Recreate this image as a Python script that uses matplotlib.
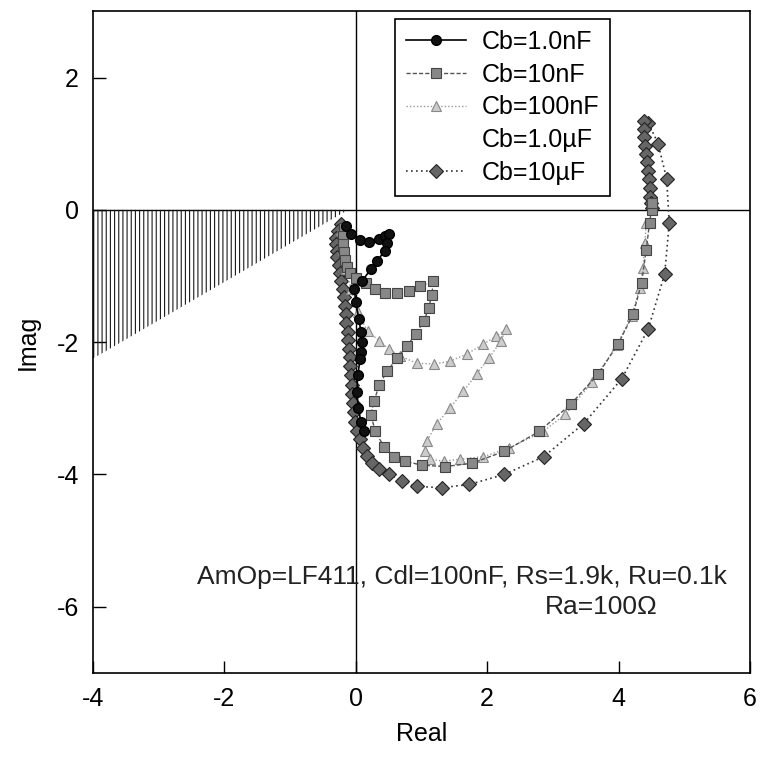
import matplotlib.pyplot as plt
from matplotlib.lines import Line2D

plt.rcParams['font.family'] = ['Liberation Sans', 'DejaVu Sans']
plt.rcParams['axes.unicode_minus'] = False
plt.rcParams['hatch.linewidth'] = 0.8

# Cb=1.0nF
cb1n_re = [-0.14, -0.07, 0.07, 0.21, 0.35, 0.45, 0.51, 0.48, 0.44, 0.33, 0.23, 0.1, -0.02,
           0.0, 0.05, 0.08, 0.1, 0.08, 0.07, 0.03, 0.02, 0.04, 0.08, 0.12]
cb1n_im = [-0.24, -0.37, -0.45, -0.48, -0.44, -0.39, -0.36, -0.5, -0.62, -0.77, -0.9, -1.07, -1.19,
           -1.4, -1.65, -1.85, -2.0, -2.15, -2.25, -2.5, -2.75, -3.0, -3.2, -3.35]

# Cb=10nF
cb10n_re = [-0.18, -0.2, -0.2, -0.18, -0.16, -0.13, -0.08, 0.0, 0.15, 0.3, 0.44, 0.63, 0.81, 0.98, 1.18,
            1.16, 1.11, 1.04, 0.91, 0.78, 0.63, 0.48, 0.36, 0.28, 0.23, 0.3, 0.43, 0.58, 0.75, 1.01,
            1.36, 1.77, 2.26, 2.79, 3.27, 3.69, 3.99, 4.22, 4.35, 4.42, 4.47, 4.5, 4.5]
cb10n_im = [-0.28, -0.4, -0.52, -0.64, -0.76, -0.86, -0.95, -1.03, -1.1, -1.2, -1.25, -1.25, -1.23, -1.15, -1.08,
            -1.28, -1.48, -1.68, -1.88, -2.06, -2.24, -2.44, -2.64, -2.89, -3.1, -3.35, -3.58, -3.73, -3.8, -3.86,
            -3.88, -3.83, -3.65, -3.35, -2.94, -2.48, -2.03, -1.58, -1.1, -0.6, -0.2, 0.0, 0.1]

# Cb=100nF
cb100n_re = [-0.22, -0.2, -0.15, -0.07, 0.03, 0.18, 0.36, 0.51, 0.68, 0.93, 1.19, 1.43, 1.69, 1.94, 2.14,
             2.29, 2.21, 2.03, 1.84, 1.64, 1.43, 1.23, 1.08, 1.05, 1.13, 1.34, 1.58, 1.94, 2.33, 2.85,
             3.19, 3.6, 3.97, 4.2, 4.32, 4.37, 4.4, 4.42]
cb100n_im = [-0.3, -0.6, -0.9, -1.2, -1.55, -1.83, -1.98, -2.11, -2.21, -2.32, -2.33, -2.29, -2.18, -2.03, -1.91,
             -1.8, -1.98, -2.24, -2.48, -2.74, -3.0, -3.24, -3.5, -3.65, -3.77, -3.8, -3.77, -3.73, -3.6, -3.35,
             -3.09, -2.6, -2.05, -1.6, -1.18, -0.88, -0.5, -0.2]

# Cb=1.0uF (shaded band on the left)
cb1u_re = [-4.0, -0.15]
cb1u_top = [0.0, 0.0]
cb1u_bottom = [-2.25, -0.02]

# Cb=10uF
cb10u_re = [-0.22, -0.27, -0.3, -0.3, -0.29, -0.28, -0.26, -0.24, -0.22, -0.2, -0.18, -0.17, -0.15, -0.14,
            -0.12, -0.11, -0.1, -0.09, -0.08, -0.07, -0.06, -0.05, -0.04, -0.03, -0.01, 0.02, 0.06, 0.11,
            0.17, 0.25, 0.36, 0.5, 0.71, 0.93, 1.31, 1.73, 2.26, 2.86, 3.47, 4.05, 4.45, 4.7, 4.77, 4.73,
            4.6, 4.45, 4.38, 4.38, 4.39, 4.4, 4.42, 4.43, 4.45, 4.46, 4.47, 4.48, 4.49, 4.5]
cb10u_im = [-0.22, -0.32, -0.42, -0.52, -0.62, -0.72, -0.84, -0.96, -1.08, -1.2, -1.32, -1.45, -1.58, -1.71,
            -1.84, -1.97, -2.1, -2.23, -2.36, -2.5, -2.64, -2.78, -2.92, -3.06, -3.2, -3.34, -3.47, -3.6,
            -3.72, -3.83, -3.92, -4.0, -4.1, -4.18, -4.2, -4.15, -4.0, -3.73, -3.23, -2.55, -1.8, -0.97, -0.2, 0.47,
            1.0, 1.32, 1.35, 1.22, 1.1, 0.97, 0.85, 0.72, 0.59, 0.46, 0.33, 0.2, 0.1, 0.03]

labels = ['Cb=1.0nF', 'Cb=10nF', 'Cb=100nF', 'Cb=1.0µF', 'Cb=10µF']
note1 = 'AmOp=LF411, Cdl=100nF, Rs=1.9k, Ru=0.1k'
note2 = 'Ra=100Ω'

fig = plt.figure(figsize=(7.6, 7.57), dpi=100)
ax = fig.add_axes([0.122, 0.111, 0.865, 0.874])

# axes through origin
ax.axhline(0, color='black', lw=1, zorder=1)
ax.axvline(0, color='black', lw=1, zorder=1)

ax.fill_between(cb1u_re, cb1u_top, cb1u_bottom, facecolor='none', edgecolor='#1a1a1a',
                hatch='||||', linewidth=0, zorder=2)

s10u, = ax.plot(cb10u_re, cb10u_im, color='#333333', ls=(0, (1, 2)), lw=1.2,
                marker='D', ms=7, mfc='#666666', mec='#222222', mew=0.8, zorder=3)
s100n, = ax.plot(cb100n_re, cb100n_im, color='#999999', ls=(0, (1, 1.5)), lw=1,
                 marker='^', ms=7, mfc='#cccccc', mec='#888888', mew=0.8, zorder=4)
s10n, = ax.plot(cb10n_re, cb10n_im, color='#555555', ls=(0, (3, 1.5)), lw=1,
                marker='s', ms=7, mfc='#888888', mec='#444444', mew=0.8, zorder=5)
s1n, = ax.plot(cb1n_re, cb1n_im, color='black', ls='-', lw=1.2,
               marker='o', ms=7, mfc='#111111', mec='black', zorder=6)
s1u = Line2D([], [], ls='none')

leg = ax.legend([s1n, s10n, s100n, s1u, s10u], labels, loc='upper left',
                bbox_to_anchor=(0.46, 0.989), borderaxespad=0, fontsize=18, numpoints=1,
                handlelength=2.4, handletextpad=0.6, labelspacing=0.35, borderpad=0.45,
                fancybox=False, edgecolor='black', framealpha=1)
leg.get_frame().set_linewidth(1.2)

ax.text(1.62, -5.55, note1, fontsize=19, ha='center', va='center', color='#222222')
ax.text(2.88, -6.0, note2, fontsize=19, ha='left', va='center', color='#222222')

ax.set_xlim(-4, 6)
ax.set_ylim(-7, 3)
ax.set_xticks([-4, -2, 0, 2, 4, 6])
ax.set_yticks([-6, -4, -2, 0, 2])
ax.tick_params(direction='in', length=9, width=1, labelsize=18, pad=10,
               top=False, right=False)
ax.set_xlabel('Real', fontsize=18, labelpad=8)
ax.set_ylabel('Imag', fontsize=18, labelpad=12)
for sp in ax.spines.values():
    sp.set_linewidth(1.2)

fig.savefig('out.png', dpi=100)
